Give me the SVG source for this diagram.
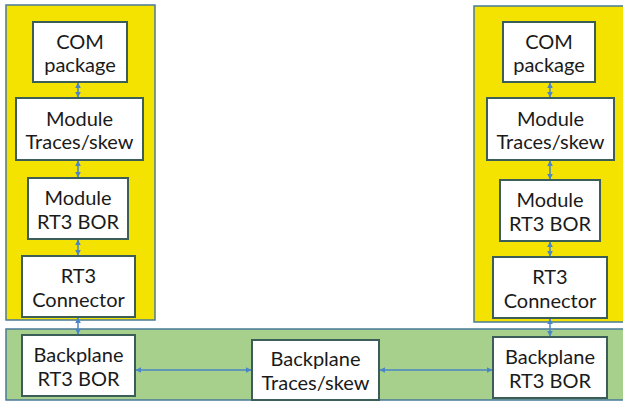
<svg xmlns="http://www.w3.org/2000/svg" width="623" height="410" viewBox="0 0 623 410">
  <defs>
    <style>
      .panel-y { fill: #F4E200; stroke: #4A7A99; stroke-width: 1.5; }
      .panel-g { fill: #A8D08D; stroke: #4A7A99; stroke-width: 1.5; }
      .box { fill: #FFFFFF; stroke: #3B5E58; stroke-width: 2; }
      .lbl { font-family: Lato, "Liberation Sans", Arial, sans-serif; font-size: 20px; fill: #1A1A1A; text-anchor: middle; }
      .wire { stroke: #4A86C5; stroke-width: 1.5; fill: none; marker-start: url(#ah); marker-end: url(#ah); }
    </style>
    <marker id="ah" viewBox="0 0 10 10" refX="9" refY="5" markerWidth="6" markerHeight="6" orient="auto-start-reverse" markerUnits="userSpaceOnUse">
      <path d="M0,0 L10,5 L0,10 z" fill="#4A86C5"/>
    </marker>
  </defs>

  <rect width="623" height="410" fill="#FFFFFF"/>

  <!-- background panels -->
  <rect class="panel-y" x="6" y="5" width="149" height="315"/>
  <rect class="panel-y" x="474" y="6" width="155" height="316"/>
  <rect class="panel-g" x="6" y="329" width="623" height="71"/>

  <!-- connectors -->
  <g id="connectors">
    <line class="wire" x1="78" y1="83" x2="78" y2="97"/>
    <line class="wire" x1="78" y1="161" x2="78" y2="177"/>
    <line class="wire" x1="78" y1="240" x2="78" y2="255"/>
    <line class="wire" x1="78" y1="318" x2="78" y2="334"/>
    <line class="wire" x1="550" y1="83" x2="550" y2="97"/>
    <line class="wire" x1="550" y1="161" x2="550" y2="179"/>
    <line class="wire" x1="550" y1="242" x2="550" y2="256"/>
    <line class="wire" x1="550" y1="319" x2="550" y2="336"/>
    <line class="wire" x1="136" y1="370" x2="251" y2="370"/>
    <line class="wire" x1="380" y1="370" x2="492" y2="370"/>
  </g>

  <!-- left stack -->
  <g id="com-left">
    <rect class="box" x="33" y="22" width="94" height="60"/>
    <text class="lbl" x="80" y="49">COM</text>
    <text class="lbl" x="80" y="72">package</text>
  </g>
  <g id="traces-left">
    <rect class="box" x="16" y="98" width="127" height="62"/>
    <text class="lbl" x="79.500" y="126">Module</text>
    <text class="lbl" x="79.500" y="149">Traces/skew</text>
  </g>
  <g id="bor-left">
    <rect class="box" x="28" y="178" width="100" height="61"/>
    <text class="lbl" x="78" y="205">Module</text>
    <text class="lbl" x="78" y="229">RT3 BOR</text>
  </g>
  <g id="conn-left">
    <rect class="box" x="22" y="256" width="113" height="61"/>
    <text class="lbl" x="78.500" y="283">RT3</text>
    <text class="lbl" x="78.500" y="307">Connector</text>
  </g>

  <!-- right stack -->
  <g id="com-right">
    <rect class="box" x="503" y="22" width="92" height="60"/>
    <text class="lbl" x="549" y="49">COM</text>
    <text class="lbl" x="549" y="72">package</text>
  </g>
  <g id="traces-right">
    <rect class="box" x="487" y="98" width="127" height="62"/>
    <text class="lbl" x="550.500" y="126">Module</text>
    <text class="lbl" x="550.500" y="149">Traces/skew</text>
  </g>
  <g id="bor-right">
    <rect class="box" x="500" y="180" width="100" height="61"/>
    <text class="lbl" x="550" y="207">Module</text>
    <text class="lbl" x="550" y="231">RT3 BOR</text>
  </g>
  <g id="conn-right">
    <rect class="box" x="493" y="257" width="114" height="61"/>
    <text class="lbl" x="550" y="284">RT3</text>
    <text class="lbl" x="550" y="308">Connector</text>
  </g>

  <!-- backplane row -->
  <g id="bp-bor-left">
    <rect class="box" x="22" y="335" width="113" height="61"/>
    <text class="lbl" x="78.500" y="362">Backplane</text>
    <text class="lbl" x="78.500" y="386">RT3 BOR</text>
  </g>
  <g id="bp-traces">
    <rect class="box" x="252" y="340" width="127" height="60"/>
    <text class="lbl" x="315.500" y="366">Backplane</text>
    <text class="lbl" x="315.500" y="390">Traces/skew</text>
  </g>
  <g id="bp-bor-right">
    <rect class="box" x="493" y="337" width="114" height="61"/>
    <text class="lbl" x="550" y="364">Backplane</text>
    <text class="lbl" x="550" y="388">RT3 BOR</text>
  </g>
</svg>
